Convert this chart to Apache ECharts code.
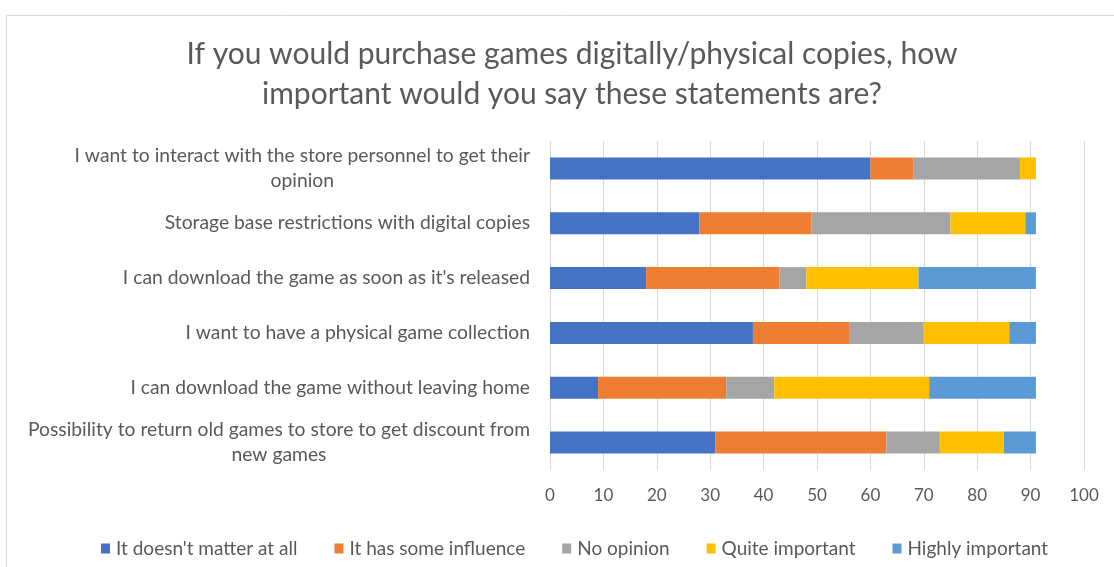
<!DOCTYPE html>
<html>
<head>
<meta charset="utf-8">
<script src="https://cdn.jsdelivr.net/npm/echarts@6/dist/echarts.min.js"></script>
<style>
html,body{margin:0;padding:0;background:#fff;}
#chart{width:1114px;height:567px;}
</style>
</head>
<body>
<div id="chart"></div>
<script>
const titleText = 'If you would purchase games digitally/physical copies, how\nimportant would you say these statements are?';
const categories = [
  'I want to interact with the store personnel to get their\nopinion',
  'Storage base restrictions with digital copies',
  "I can download the game as soon as it's released",
  'I want to have a physical game collection',
  'I can download the game without leaving home',
  'Possibility to return old games to store to get discount from\nnew games'
];
const seriesNames = ["It doesn't matter at all", 'It has some influence', 'No opinion', 'Quite important', 'Highly important'];
const notMatter = [60, 28, 18, 38, 9, 31];
const someInfluence = [8, 21, 25, 18, 24, 32];
const noOpinion = [20, 26, 5, 14, 9, 10];
const quiteImportant = [3, 14, 21, 16, 29, 12];
const highlyImportant = [0, 2, 22, 5, 20, 6];
const xTicks = [0, 10, 20, 30, 40, 50, 60, 70, 80, 90, 100];
const colors = ['#4472C4', '#ED7D31', '#A5A5A5', '#FFC000', '#5B9BD5'];

const FONT = 'Lato';
const TXT = '#595959';
const allValues = [notMatter, someInfluence, noOpinion, quiteImportant, highlyImportant];

const chart = echarts.init(document.getElementById('chart'));
chart.setOption({
  animation: false,
  backgroundColor: '#fff',
  color: colors,
  graphic: [{
    type: 'rect', left: 4, top: 13,
    shape: { width: 1200, height: 600 },
    style: { fill: 'none', stroke: '#d9d9d9', lineWidth: 1 }
  }],
  title: {
    text: titleText,
    left: 567,
    textAlign: 'center',
    top: 29,
    textStyle: { fontFamily: FONT, fontSize: 30, fontWeight: 'normal', color: TXT, lineHeight: 40 }
  },
  grid: { left: 550, right: 30, top: 141, bottom: 97, containLabel: false },
  legend: {
    data: seriesNames,
    top: 534,
    left: 96,
    icon: 'rect',
    itemWidth: 9,
    itemHeight: 10,
    itemGap: 37,
    textStyle: { fontFamily: FONT, fontSize: 19, color: TXT, padding: [0, 0, 0, 1] }
  },
  xAxis: {
    type: 'value',
    min: xTicks[0],
    max: xTicks[xTicks.length - 1],
    interval: xTicks[1] - xTicks[0],
    axisLine: { show: false },
    axisTick: { show: false },
    splitLine: { show: true, lineStyle: { color: '#d9d9d9', width: 1 } },
    axisLabel: { fontFamily: FONT, fontSize: 17, color: TXT, margin: 17 }
  },
  yAxis: {
    type: 'category',
    data: categories,
    inverse: true,
    axisLine: { show: false },
    axisTick: { show: false },
    axisLabel: {
      fontFamily: FONT, fontSize: 19.3, color: TXT, margin: 20, lineHeight: 25,
      formatter: function (v) {
        return v.split('\n').map(function (l) { return '{c|' + l + '}'; }).join('\n');
      },
      rich: { c: { align: 'center', fontFamily: FONT, fontSize: 19.3, color: TXT, lineHeight: 25 } }
    }
  },
  series: seriesNames.map(function (name, i) {
    return {
      name: name,
      type: 'bar',
      stack: 'total',
      barCategoryGap: '60%',
      data: allValues[i],
      itemStyle: { color: colors[i] }
    };
  })
});
</script>
</body>
</html>
